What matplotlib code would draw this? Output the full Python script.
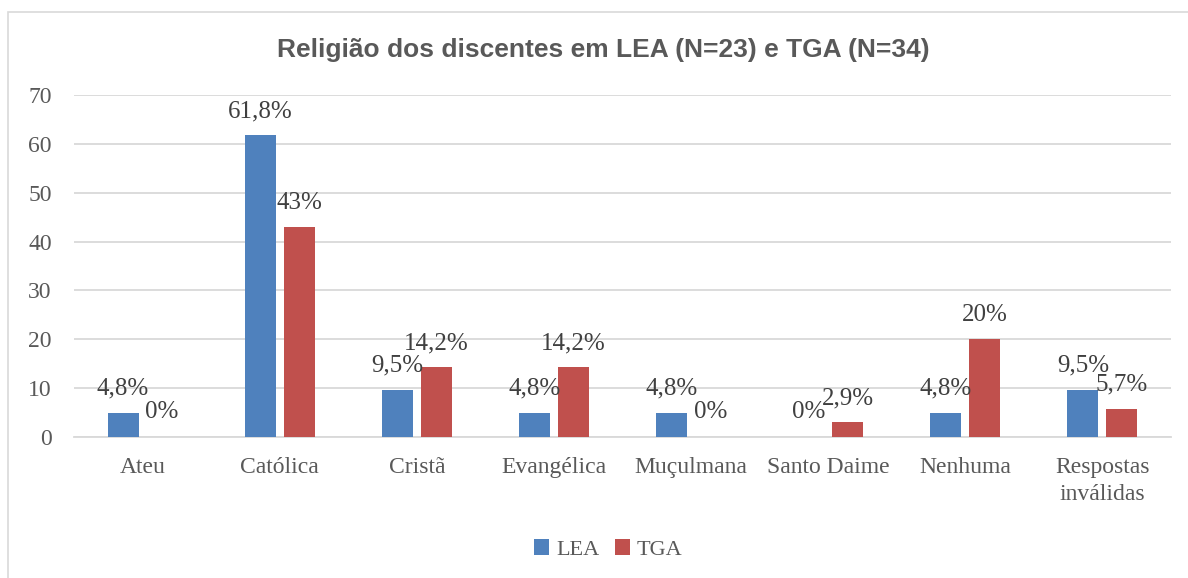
import matplotlib
matplotlib.use("Agg")
import matplotlib.pyplot as plt
import numpy as np
from matplotlib.patches import Rectangle

categories = ["Ateu", "Católica", "Cristã", "Evangélica", "Muçulmana",
              "Santo Daime", "Nenhuma", "Respostas\ninválidas"]
lea = [4.8, 61.8, 9.5, 4.8, 4.8, 0, 4.8, 9.5]
tga = [0, 43, 14.2, 14.2, 0, 2.9, 20, 5.7]
lea_labels = ["4,8%", "61,8%", "9,5%", "4,8%", "4,8%", "0%", "4,8%", "9,5%"]
tga_labels = ["0%", "43%", "14,2%", "14,2%", "0%", "2,9%", "20%", "5,7%"]
yticks = [0, 10, 20, 30, 40, 50, 60, 70]

BLUE = "#4F81BD"
RED = "#C0504D"
TXT = "#595959"
SERIF = "Liberation Serif"

fig = plt.figure(figsize=(11.88, 5.78), dpi=100)
ax = fig.add_axes([0.0623, 0.2448, 0.9234, 0.5900])

# chart frame (cropped on the right/bottom in the reference)
fig.patches.append(Rectangle((8 / 1188, -0.1), 1.2, 1 - 12 / 578 + 0.1,
                             transform=fig.transFigure, fill=False,
                             edgecolor="#d9d9d9", linewidth=1.2))

x = np.arange(len(categories))
w = 0.226
off = 0.142
b1 = ax.bar(x - off, lea, w, color=BLUE, label="LEA", zorder=3)
b2 = ax.bar(x + off, tga, w, color=RED, label="TGA", zorder=3)

for bars, labs in ((b1, lea_labels), (b2, tga_labels)):
    for r, t in zip(bars, labs):
        ax.annotate(t, (r.get_x() + r.get_width() / 2, r.get_height()),
                    xytext=(0, 17.5), textcoords="offset points",
                    ha="center", va="center", fontsize=18,
                    family=SERIF, color="#404040")

ax.set_xlim(-0.5, len(categories) - 0.5)
ax.set_ylim(0, 70)
ax.set_yticks(yticks)
ax.yaxis.grid(True, color="#d9d9d9", linewidth=1.3, zorder=0)
ax.set_axisbelow(True)
for s in ("top", "right", "left"):
    ax.spines[s].set_visible(False)
ax.spines["bottom"].set_color("#d9d9d9")
ax.spines["bottom"].set_linewidth(1.3)
ax.tick_params(axis="both", length=0, labelsize=17, labelcolor=TXT)
ax.tick_params(axis="y", pad=16)
ax.tick_params(axis="x", pad=15)
ax.set_xticks(x)
ax.set_xticklabels(categories, family=SERIF, linespacing=1.35)
for lab in ax.get_yticklabels():
    lab.set_family(SERIF)

fig.text(0.508, 0.914, "Religião dos discentes em LEA (N=23) e TGA (N=34)",
         ha="center", va="center", fontsize=19, fontweight="bold",
         family="Liberation Sans", color=TXT)

leg = fig.legend(loc="center", bbox_to_anchor=(0.512, 0.049), ncol=2,
                 frameon=False, prop={"family": SERIF, "size": 16},
                 handlelength=0.7, handleheight=0.7, handletextpad=0.3,
                 columnspacing=0.7)
for t in leg.get_texts():
    t.set_color(TXT)

fig.savefig("out.png", dpi=100, facecolor="white")
